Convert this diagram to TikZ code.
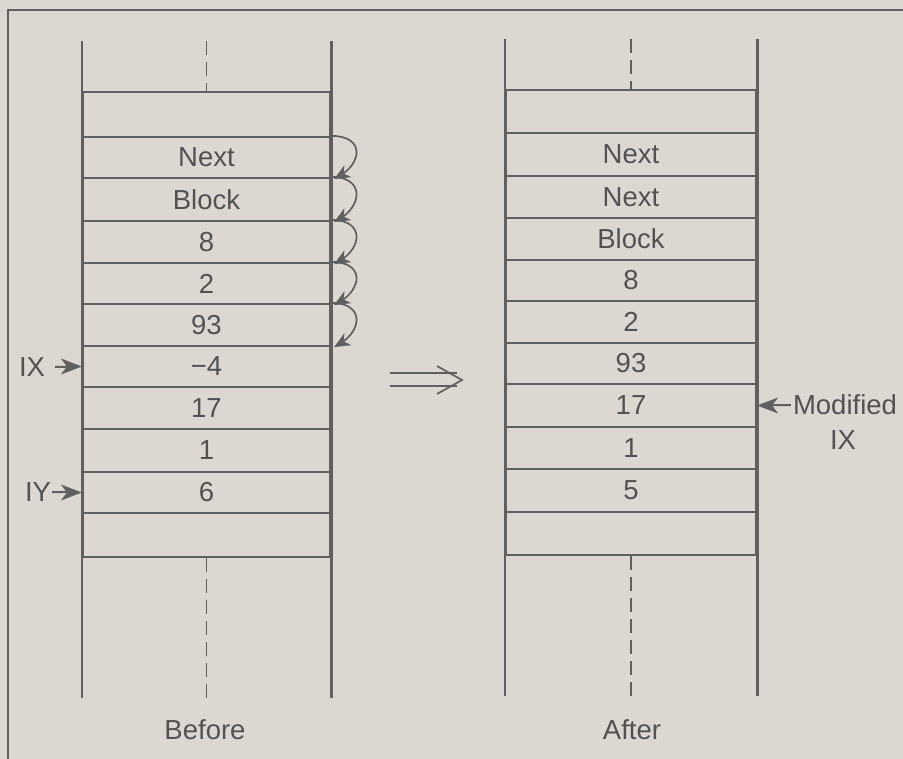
\documentclass[tikz,border=0pt]{standalone}
\usepackage{fontspec}
\setmainfont{Liberation Sans}
\definecolor{bg}{RGB}{221,215,209}
\definecolor{ink}{RGB}{96,96,96}
\definecolor{txt}{RGB}{82,82,82}
\begin{document}
\begin{tikzpicture}[x=1pt,y=-1pt,
  txtfont/.style={font=\fontsize{27.5}{29}\selectfont},
  cellL/.style={minimum width=247pt, inner sep=0pt, draw=ink, line width=2.2pt, text=txt, txtfont},
  cellR/.style={minimum width=250pt, inner sep=0pt, draw=ink, line width=2.2pt, text=txt, txtfont},
  rail/.style={draw=ink, line width=2.8pt},
  midline/.style={draw=ink, line width=1.7pt, dash pattern=on 14pt off 7pt},
  arr/.style={draw=ink, line width=2pt, shorten >=8pt},
  carr/.style={draw=ink, line width=1.7pt, shorten >=6pt},
  bighead/.pic={\fill[ink] (0,0) -- (-21,-8) -- (-15,0) -- (-21,8) -- cycle;},
  smallhead/.pic={\fill[ink] (0,0) -- (-16,-7) -- (-11,0) -- (-16,7) -- cycle;},
  lbl/.style={text=txt, inner sep=0pt, txtfont}]
\fill[bg] (0,0) rectangle (903,759);
\useasboundingbox (0,0) rectangle (903,759);
% frame
\draw[ink, line width=1.3pt] (8,759) -- (8,10) -- (903,10);
% left stack
\node[cellL, minimum height=45pt] (L0) at (206.5,114.5) {};
\node[cellL, minimum height=41pt] (L1) at (206.5,157.5) {Next};
\node[cellL, minimum height=43pt] (L2) at (206.5,199.5) {Block};
\node[cellL, minimum height=42pt] (L3) at (206.5,242) {8};
\node[cellL, minimum height=41pt] (L4) at (206.5,283.5) {2};
\node[cellL, minimum height=42pt] (L5) at (206.5,325) {93};
\node[cellL, minimum height=41pt] (L6) at (206.5,366.5) {−4};
\node[cellL, minimum height=42pt] (L7) at (206.5,408) {17};
\node[cellL, minimum height=43pt] (L8) at (206.5,450.5) {1};
\node[cellL, minimum height=41pt] (L9) at (206.5,492.5) {6};
\node[cellL, minimum height=44pt] (L10) at (206.5,535) {};
% right stack
\node[cellR, minimum height=43pt] (R0) at (631,111.5) {};
\node[cellR, minimum height=43pt] (R1) at (631,154.5) {Next};
\node[cellR, minimum height=42pt] (R2) at (631,197) {Next};
\node[cellR, minimum height=42pt] (R3) at (631,239) {Block};
\node[cellR, minimum height=41pt] (R4) at (631,280.5) {8};
\node[cellR, minimum height=42pt] (R5) at (631,322) {2};
\node[cellR, minimum height=41pt] (R6) at (631,363.5) {93};
\node[cellR, minimum height=43pt] (R7) at (631,405.5) {17};
\node[cellR, minimum height=42pt] (R8) at (631,448) {1};
\node[cellR, minimum height=43pt] (R9) at (631,490.5) {5};
\node[cellR, minimum height=43pt] (R10) at (631,533.5) {};
% rails
\draw[rail] ([yshift=50pt]L0.north west) -- ([yshift=-140pt]L10.south west);
\draw[rail] ([yshift=50pt]L0.north east) -- ([yshift=-140pt]L10.south east);
\draw[rail] ([yshift=50pt]R0.north west) -- ([yshift=-140pt]R10.south west);
\draw[rail] ([yshift=50pt]R0.north east) -- ([yshift=-140pt]R10.south east);
% dashed centre lines
\draw[midline] ([yshift=50pt]L0.north) -- (L0.north);
\draw[midline] (L10.south) -- ([yshift=-140pt]L10.south);
\draw[midline] ([yshift=50pt]R0.north) -- (R0.north);
\draw[midline] (R10.south) -- ([yshift=-140pt]R10.south);
% curved arrows
\foreach \i in {1,...,5}{
  \draw[carr] (L\i.north east) .. controls +(34,0) and +(28,-16) .. ([xshift=3pt]L\i.south east);
  \pic[rotate=210] at ([xshift=3pt]L\i.south east) {smallhead};
}
% pointer labels
\node[lbl] (IX) at (32,367) {IX};
\draw[arr] ([xshift=10pt]IX.east) -- (L6.west);
\pic at (L6.west) {bighead};
\node[lbl] (IY) at (38,492) {IY};
\draw[arr] ([xshift=1pt]IY.east) -- (L9.west);
\pic at (L9.west) {bighead};
\node[lbl] (mod) at (845,405) {Modified};
\node[lbl] (ix2) at (843,440) {IX};
\draw[arr] ([xshift=-2pt]mod.west) -- (R7.east);
\pic[rotate=180] at (R7.east) {bighead};
% captions
\node[lbl] (before) at (205,730) {Before};
\node[lbl] (after) at (632,730) {After};
% implies arrow
\draw[ink, line width=1.7pt] (390,373) -- (457,373) (390,386) -- (457,386);
\draw[ink, line width=1.7pt, line join=miter] (437,366) -- (462,380) -- (437,394);
\end{tikzpicture}
\end{document}
